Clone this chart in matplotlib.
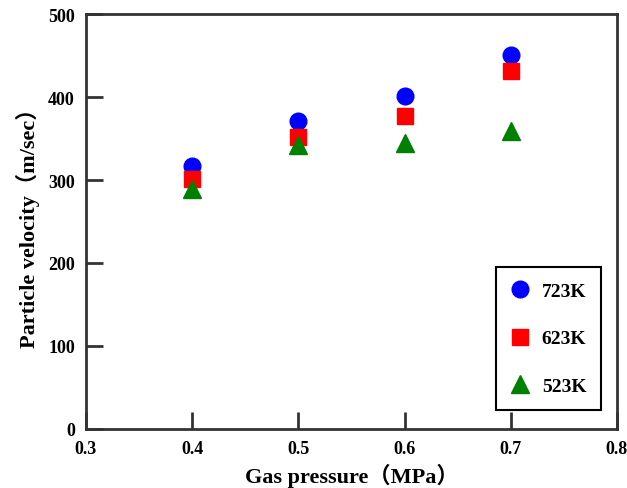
import matplotlib.pyplot as plt

pressure = [0.4, 0.5, 0.6, 0.7]
v_723 = [317, 371, 401, 451]
v_623 = [301, 352, 377, 431]
v_523 = [289, 342, 345, 359]

plt.rcParams['font.family'] = ['Liberation Serif', 'Noto Sans CJK SC']
plt.rcParams['font.weight'] = 'bold'

fig = plt.figure(figsize=(6.27, 4.89), dpi=100)
ax = fig.add_axes([0.137, 0.121, 0.847, 0.848])

ax.plot(pressure, v_723, 'o', color='blue', markersize=12, label='723K', linestyle='none')
ax.plot(pressure, v_623, 's', color='red', markersize=12, label='623K', linestyle='none')
ax.plot(pressure, v_523, '^', color='green', markersize=13, label='523K', linestyle='none')

ax.set_xlim(0.3, 0.8)
ax.set_ylim(0, 500)
ax.set_xticks([0.3, 0.4, 0.5, 0.6, 0.7, 0.8])
ax.set_xticklabels(['0.3', '0.4', '0.5', '0.6', '0.7', '0.8'])
ax.set_yticks([0, 100, 200, 300, 400, 500])
ax.tick_params(direction='in', length=12, width=2, color='#333333', labelsize=13, pad=8)
for s in ax.spines.values():
    s.set_linewidth(2)
    s.set_color('#333333')

ax.set_xlabel('Gas pressure（MPa）', fontsize=16, fontweight='bold', labelpad=4)
ax.set_ylabel('Particle velocity（m/sec）', fontsize=16, fontweight='bold', labelpad=6)

leg = ax.legend(loc='lower right', bbox_to_anchor=(0.97, 0.046), fancybox=False,
                edgecolor='black', framealpha=1, labelspacing=1.55, borderpad=0.75,
                handlelength=1.0, handletextpad=0.6, borderaxespad=0,
                prop={'weight': 'bold', 'size': 14})
leg.get_frame().set_linewidth(1.5)

plt.savefig('out.png', dpi=100)
